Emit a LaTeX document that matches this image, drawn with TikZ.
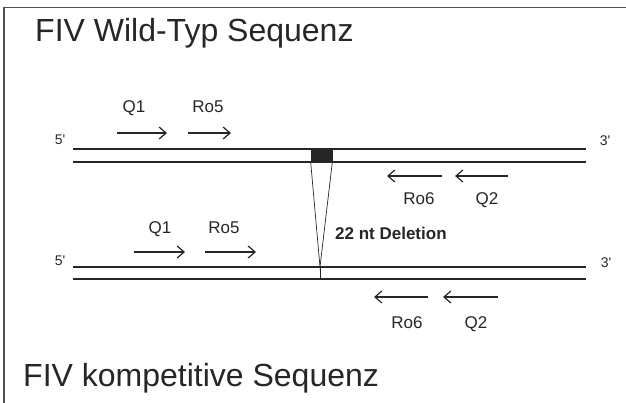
\documentclass[tikz,border=0pt]{standalone}
\usepackage{fontspec}
\setmainfont{Liberation Sans}
\usetikzlibrary{arrows.meta,positioning}
\definecolor{ink}{HTML}{262626}
\tikzset{
    strand/.style={line width=1.6pt, ink},
    primer/.style={line width=1.2pt, ink, -{Straight Barb[length=7pt,width=12pt,line width=1.2pt]}},
    lbl/.style={font=\fontsize{17}{19}\selectfont, text=ink, inner sep=0pt, anchor=base},
    endlbl/.style={font=\fontsize{14}{16}\selectfont, text=ink, inner sep=0pt, anchor=base},
    heading/.style={font=\fontsize{32}{36}\selectfont, text=ink, inner sep=0pt, anchor=base west},
}
\begin{document}
\begin{tikzpicture}[x=1pt, y=-1pt]
    \useasboundingbox (0,0) rectangle (626,403);
    % Frame (top and left edge)
    \draw[line width=1.2pt, ink!80] (626,7.5) -- (4,7.5) -- (4,403);

    % Titles
    \node[heading] (wtitle) at (35,42) {FIV Wild-Typ Sequenz};
    \node[heading] (ktitle) at (23,386) {FIV kompetitive Sequenz};

    % Wild-type double strand
    \coordinate (wtop1) at (73,149);  \coordinate (wtop2) at (586,149);
    \coordinate (wbot1) at (73,162);  \coordinate (wbot2) at (586,162);
    \draw[strand] (wtop1) -- (wtop2);
    \draw[strand] (wbot1) -- (wbot2);
    \node[endlbl] (w5) at (60,145) {5\textquotesingle};
    \node[endlbl] (w3) at (605,145.5) {3\textquotesingle};

    % Wild-type primers
    \coordinate (wq1a) at (117,133);  \coordinate (wq1b) at (167,133);
    \coordinate (wr5a) at (188,133);  \coordinate (wr5b) at (231,133);
    \coordinate (wr6a) at (442,176);  \coordinate (wr6b) at (387,176);
    \coordinate (wq2a) at (508,176);  \coordinate (wq2b) at (455,176);
    \draw[primer] (wq1a) -- (wq1b);
    \draw[primer] (wr5a) -- (wr5b);
    \draw[primer] (wr6a) -- (wr6b);
    \draw[primer] (wq2a) -- (wq2b);
    \node[lbl] (wq1) at (134,113) {Q1};
    \node[lbl] (wr5) at (208,113) {Ro5};
    \node[lbl] (wr6) at (419,205) {Ro6};
    \node[lbl] (wq2) at (487,205) {Q2};

    % Deleted region and its wedge
    \node[draw=ink, fill=ink, line width=0.6pt, inner sep=0pt,
          minimum width=21pt, minimum height=13pt] (del) at (321.5,155.5) {};
    \coordinate (apex) at (320,267);
    \coordinate (apexb) at (320,279);
    \draw[line width=0.7pt, ink] (del.south west) -- (apex) -- (del.south east);
    \draw[line width=0.7pt, ink] (apex) -- (apexb);
    \node[lbl, font=\fontsize{17}{19}\selectfont\bfseries, anchor=base west] (dlbl) at (335,239.5) {22 nt Deletion};

    % Competitive double strand
    \coordinate (ktop1) at (73,267);  \coordinate (ktop2) at (586,267);
    \coordinate (kbot1) at (73,279);  \coordinate (kbot2) at (586,279);
    \draw[strand] (ktop1) -- (ktop2);
    \draw[strand] (kbot1) -- (kbot2);
    \node[endlbl] (k5) at (60,265.5) {5\textquotesingle};
    \node[endlbl] (k3) at (606,267.5) {3\textquotesingle};

    % Competitive primers
    \coordinate (kq1a) at (134,252);  \coordinate (kq1b) at (185,252);
    \coordinate (kr5a) at (205,252);  \coordinate (kr5b) at (256,252);
    \coordinate (kr6a) at (428,297);  \coordinate (kr6b) at (374,297);
    \coordinate (kq2a) at (498,297);  \coordinate (kq2b) at (443,297);
    \draw[primer] (kq1a) -- (kq1b);
    \draw[primer] (kr5a) -- (kr5b);
    \draw[primer] (kr6a) -- (kr6b);
    \draw[primer] (kq2a) -- (kq2b);
    \node[lbl] (kq1) at (160,233.5) {Q1};
    \node[lbl] (kr5) at (224,233.5) {Ro5};
    \node[lbl] (kr6) at (407,328.5) {Ro6};
    \node[lbl] (kq2) at (476,328.5) {Q2};
\end{tikzpicture}
\end{document}
